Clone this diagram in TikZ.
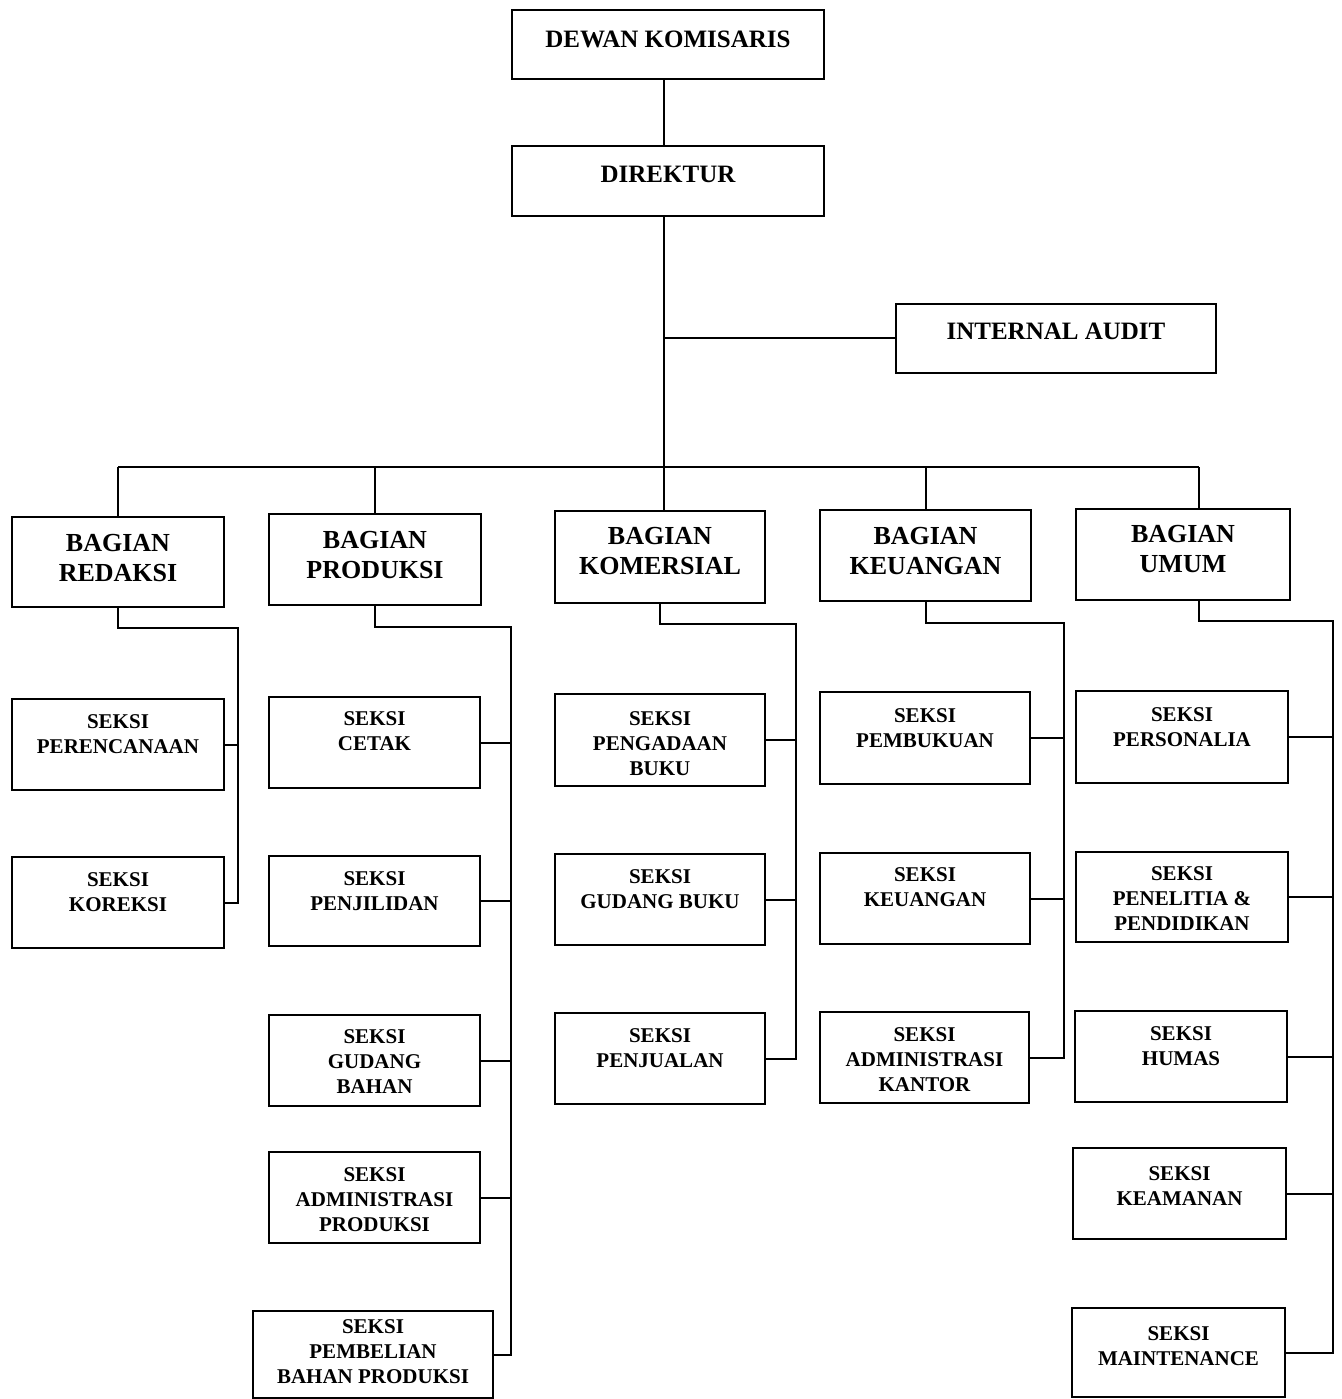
\documentclass[tikz,border=0pt]{standalone}
\usepackage{fontspec}
\setmainfont{Liberation Serif}
\usetikzlibrary{fit}
\tikzset{
  box/.style={draw, line width=1pt, inner sep=0pt, fit={#1}},
  sek/.style={font=\fontsize{10.5}{12.5}\selectfont\bfseries, align=center, inner sep=0pt},
  bag/.style={font=\fontsize{13}{15}\selectfont\bfseries, align=center, inner sep=0pt},
  topt/.style={font=\fontsize{12.5}{15}\selectfont\bfseries, align=center, inner sep=0pt},
  conn/.style={line width=1pt}
}
% #1 text style, #2 name, #3 x1, #4 y1, #5 x2, #6 y2, #7 offset, #8 text
\newcommand\obox[8][sek]{%
  \node[box={(#3,#4) (#5,#6)}] (#2) {};
  \node[#1, anchor=north] (#2-t) at ([yshift=-#7*0.5pt]#2.north) {#8};
}
\begin{document}
\begin{tikzpicture}[x=0.5pt, y=-0.5pt]
\useasboundingbox (0,0) rectangle (1341,1399);
\fill[white] (0,0) rectangle (1341,1399);

% top
\obox[topt]{dk}{512}{10}{824}{79}{22}{DEWAN KOMISARIS}
\obox[topt]{dir}{512}{146}{824}{216}{21}{DIREKTUR}
\obox[topt]{ia}{896}{304}{1216}{373}{20}{INTERNAL AUDIT}

% bagian
\obox[bag]{bred}{12}{517}{224}{607}{18}{BAGIAN\\REDAKSI}
\obox[bag]{bprod}{269}{514}{481}{605}{18}{BAGIAN\\PRODUKSI}
\obox[bag]{bkom}{555}{511}{765}{603}{17}{BAGIAN\\KOMERSIAL}
\obox[bag]{bkeu}{820}{510}{1031}{601}{18}{BAGIAN\\KEUANGAN}
\obox[bag]{bum}{1076}{509}{1290}{600}{17}{BAGIAN\\UMUM}

% seksi redaksi
\obox{per}{12}{699}{224}{790}{16}{SEKSI\\PERENCANAAN}
\obox{kor}{12}{857}{224}{948}{16}{SEKSI\\KOREKSI}
% seksi produksi
\obox{cet}{269}{697}{480}{788}{15}{SEKSI\\CETAK}
\obox{pjl}{269}{856}{480}{946}{16}{SEKSI\\PENJILIDAN}
\obox{gdb}{269}{1015}{480}{1106}{15}{SEKSI\\GUDANG\\BAHAN}
\obox{adp}{269}{1152}{480}{1243}{16}{SEKSI\\ADMINISTRASI\\PRODUKSI}
\obox{pbb}{253}{1311}{493}{1398}{9}{SEKSI\\PEMBELIAN\\BAHAN PRODUKSI}
% seksi komersial
\obox{pga}{555}{694}{765}{786}{18}{SEKSI\\PENGADAAN\\BUKU}
\obox{gbk}{555}{854}{765}{945}{16}{SEKSI\\GUDANG BUKU}
\obox{pjn}{555}{1013}{765}{1104}{16}{SEKSI\\PENJUALAN}
% seksi keuangan
\obox{pbk}{820}{692}{1030}{784}{17}{SEKSI\\PEMBUKUAN}
\obox{keu}{820}{853}{1030}{944}{15}{SEKSI\\KEUANGAN}
\obox{adk}{820}{1012}{1029}{1103}{16}{SEKSI\\ADMINISTRASI\\KANTOR}
% seksi umum
\obox{prs}{1076}{691}{1288}{783}{17}{SEKSI\\PERSONALIA}
\obox{pnl}{1076}{852}{1288}{942}{15}{SEKSI\\PENELITIA \&\\PENDIDIKAN}
\obox{hms}{1075}{1011}{1287}{1102}{16}{SEKSI\\HUMAS}
\obox{kmn}{1073}{1148}{1286}{1239}{19}{SEKSI\\KEAMANAN}
\obox{mnt}{1072}{1308}{1285}{1397}{19}{SEKSI\\MAINTENANCE}

% top connectors
\draw[conn] (dk.south -| 664,0) -- (dir.north -| 664,0);
\draw[conn] (dir.south -| 664,0) -- (bkom.north -| 664,0);
\draw[conn] (ia.west |- 0,338) -- (664,338);
\coordinate (busL) at (118,467);
\coordinate (busR) at (1199,467);
\draw[conn] (busL) -- (busR);
\draw[conn] (busL) -- (bred.north);
\draw[conn] (bprod.north |- busL) -- (bprod.north);
\draw[conn] (bkeu.north |- busL) -- (bkeu.north);
\draw[conn] (busR) -- (busR |- bum.north);

% branch verticals
\coordinate (vRed) at (238,628);
\coordinate (vProd) at (511,627);
\coordinate (vKom) at (796,624);
\coordinate (vKeu) at (1064,623);
\coordinate (vUm) at (1333,621);

\draw[conn] (bred.south) |- (vRed) -- (vRed |- kor.east) -- (kor.east);
\draw[conn] (per.east) -- (per.east -| vRed);

\draw[conn] (bprod.south) |- (vProd) -- (vProd |- pbb.east) -- (pbb.east);
\foreach \n in {cet,pjl,gdb,adp} \draw[conn] (\n.east) -- (\n.east -| vProd);

\draw[conn] (bkom.south) |- (vKom) -- (vKom |- pjn.east) -- (pjn.east);
\foreach \n in {pga,gbk} \draw[conn] (\n.east) -- (\n.east -| vKom);

\draw[conn] (bkeu.south) |- (vKeu) -- (vKeu |- adk.east) -- (adk.east);
\foreach \n in {pbk,keu} \draw[conn] (\n.east) -- (\n.east -| vKeu);

\draw[conn] (bum.south -| busR) |- (vUm) -- (vUm |- mnt.east) -- (mnt.east);
\foreach \n in {prs,pnl,hms,kmn} \draw[conn] (\n.east) -- (\n.east -| vUm);
\end{tikzpicture}
\end{document}
